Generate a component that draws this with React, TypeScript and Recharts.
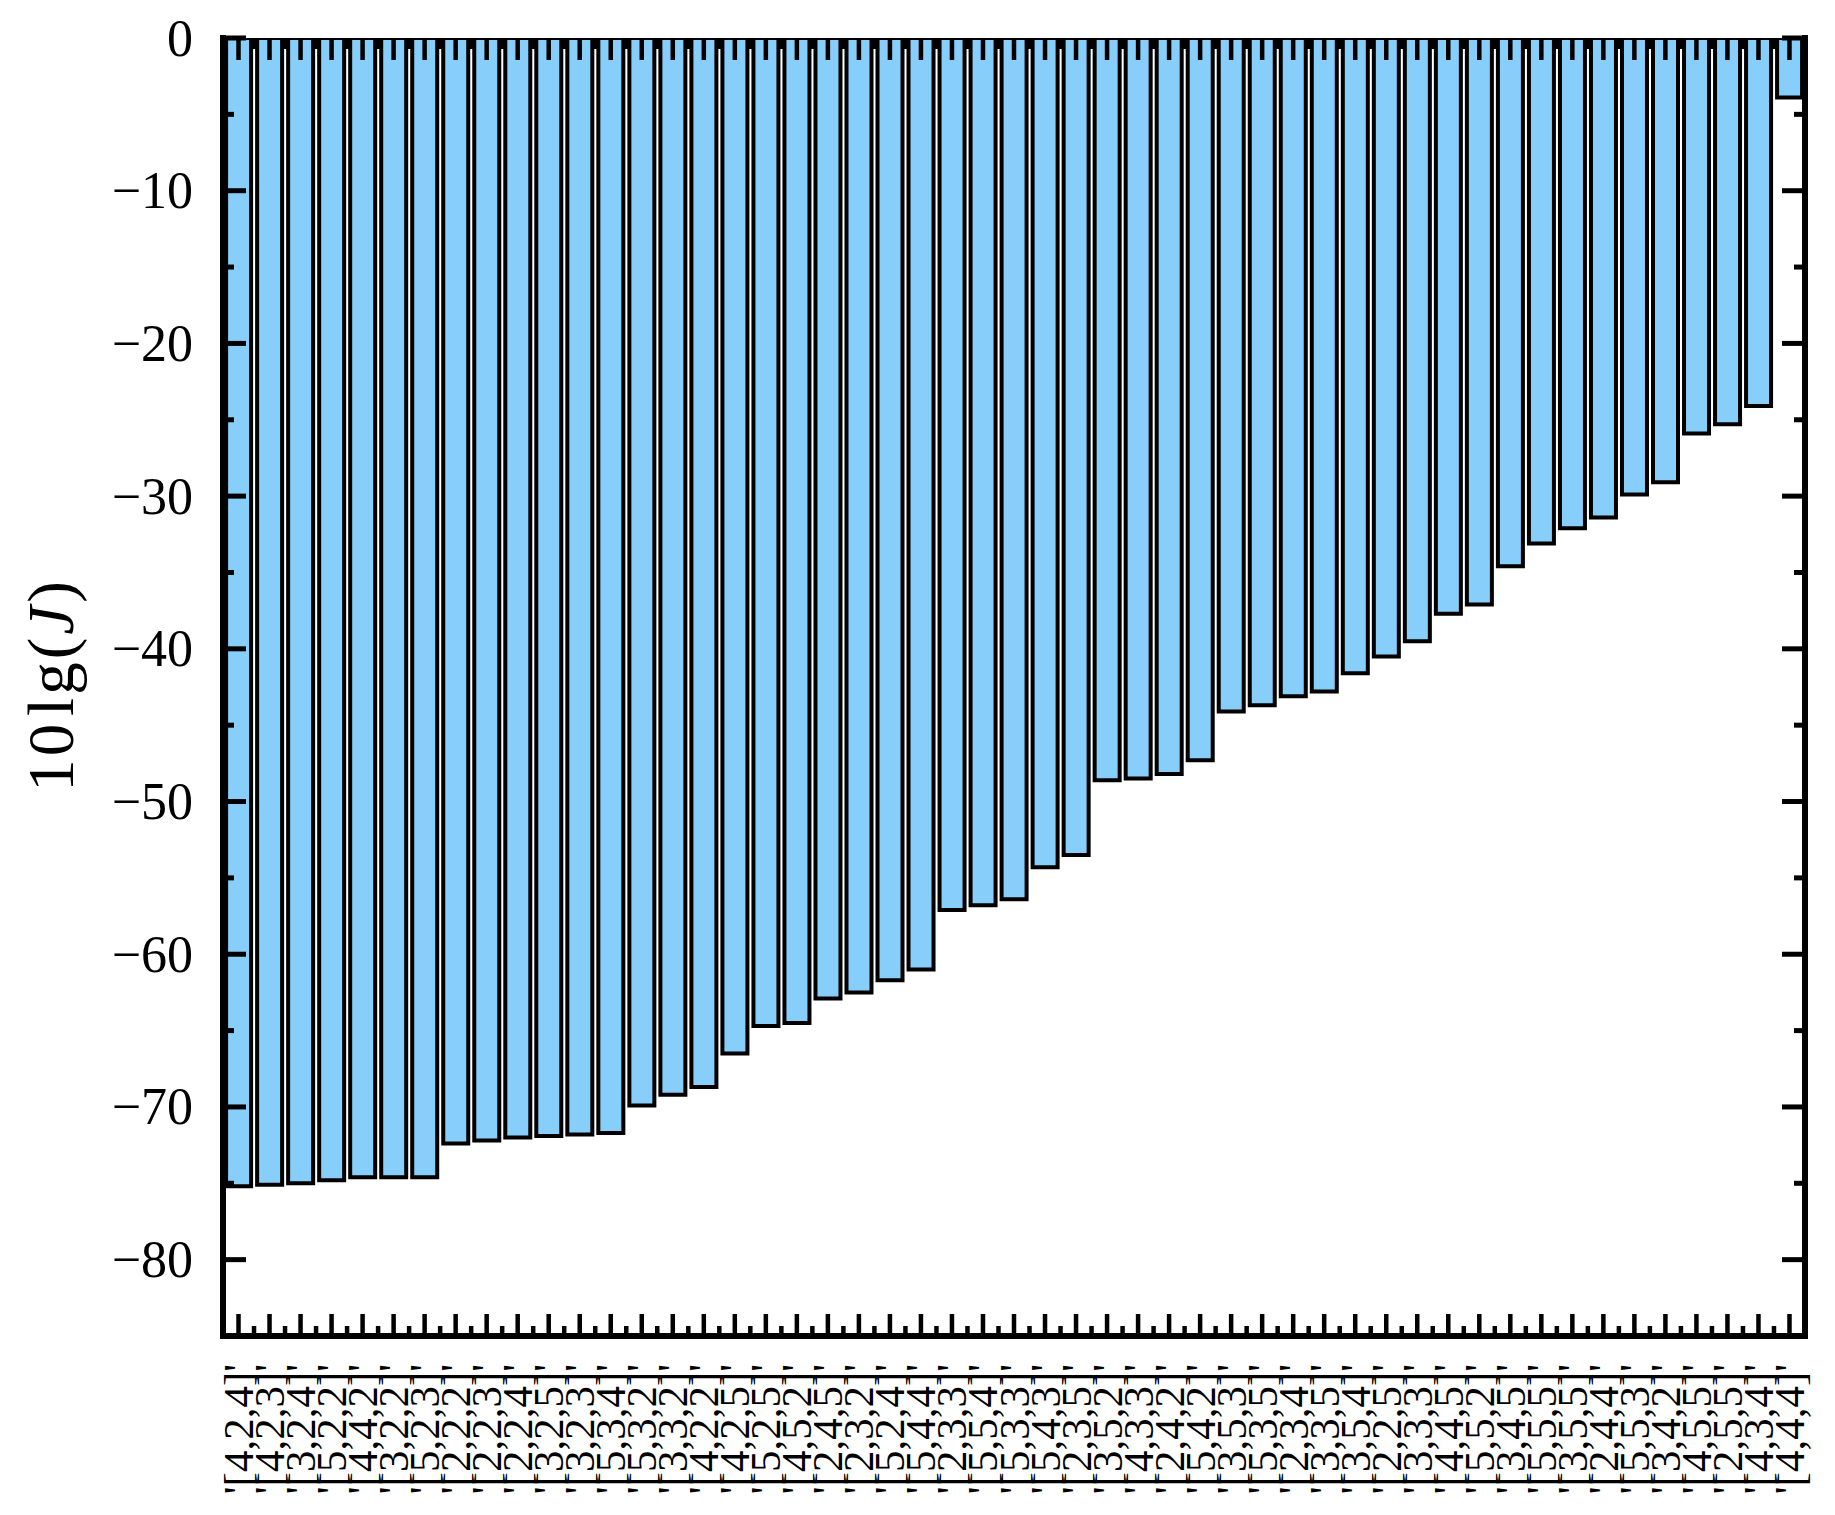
import { BarChart, Bar, XAxis, YAxis } from "recharts";

// parameter combinations, left to right (sorted by 10 lg(J))
const configs = [
    "[4,2,4]", "[4,2,3]", "[3,2,4]", "[5,2,2]", "[4,4,2]", "[3,2,2]", "[5,2,3]",
    "[2,2,2]", "[2,2,3]", "[2,2,4]", "[3,2,5]", "[3,2,3]", "[5,3,4]", "[5,3,2]",
    "[3,3,2]", "[4,2,2]", "[4,2,5]", "[5,2,5]", "[4,5,2]", "[2,4,5]", "[2,3,2]",
    "[5,2,4]", "[5,4,4]", "[2,3,3]", "[5,5,4]", "[5,3,3]", "[5,4,3]", "[2,3,5]",
    "[3,5,2]", "[4,3,3]", "[2,4,2]", "[5,4,2]", "[3,5,3]", "[5,3,5]", "[2,3,4]",
    "[3,3,5]", "[3,5,4]", "[2,2,5]", "[3,3,3]", "[4,4,5]", "[5,5,2]", "[3,4,5]",
    "[5,5,5]", "[3,5,5]", "[2,4,4]", "[5,5,3]", "[3,4,2]", "[4,5,5]", "[2,5,5]",
    "[4,3,4]", "[4,4,4]",
];

const lgJ = [
    -75.2, -75.1, -75.0, -74.8, -74.6, -74.6, -74.6,
    -72.4, -72.2, -72.0, -71.9, -71.8, -71.7, -69.9,
    -69.2, -68.7, -66.5, -64.7, -64.5, -62.9, -62.5,
    -61.7, -61.0, -57.1, -56.8, -56.4, -54.3, -53.5,
    -48.6, -48.5, -48.2, -47.3, -44.1, -43.7, -43.1,
    -42.8, -41.6, -40.5, -39.5, -37.7, -37.1, -34.6,
    -33.1, -32.1, -31.4, -29.9, -29.1, -25.9, -25.3,
    -24.1, -3.9,
];

const yTicks = [0, -5, -10, -15, -20, -25, -30, -35, -40, -45, -50, -55, -60, -65, -70, -75, -80];

const W = 1835;
const H = 1515;
const LEFT = 223;
const RIGHT = 30;
const TOP = 38;
const BOTTOM = 179;
const PLOT_W = W - LEFT - RIGHT;
const PLOT_H = H - TOP - BOTTOM;
const BAND = PLOT_W / configs.length;
const SERIF = '"Liberation Serif", "Times New Roman", Times, serif';

const data = configs.map((label, i) => ({ label, value: lgJ[i] }));

const frame = { stroke: "#000", strokeWidth: 6, strokeLinecap: "square" as const };

const fmt = (v: number) => (v === 0 ? "0" : `\u2212${Math.abs(v)}`);

// bottom axis: major tick at each bar, minor between bars (mirrored at the top), rotated label
const BottomTick = (props: any) => {
    const { x, y, payload } = props;
    const idx = props.index ?? payload.index;
    const top = y - PLOT_H;
    const ty = y + 28;
    const hasMinor = idx < configs.length - 1;
    const mx = x + BAND / 2;
    return (
        <g>
            <line x1={x} x2={x} y1={y} y2={y - 22} stroke="#000" strokeWidth={4.5} />
            <line x1={x} x2={x} y1={top} y2={top + 22} stroke="#000" strokeWidth={4.5} />
            {hasMinor && <line x1={mx} x2={mx} y1={y} y2={y - 10} stroke="#000" strokeWidth={4.5} />}
            {hasMinor && <line x1={mx} x2={mx} y1={top} y2={top + 11} stroke="#000" strokeWidth={4.5} />}
            <text
                x={x}
                y={ty}
                transform={`rotate(-90, ${x}, ${ty})`}
                textAnchor="end"
                dominantBaseline="central"
                fontFamily={SERIF}
                fontSize={43}
                fill="#000"
            >
                {`'${payload.value}'`}
            </text>
        </g>
    );
};

const LeftTick = (props: any) => {
    const { x, y, payload } = props;
    const major = payload.value % 10 === 0;
    return (
        <g>
            <line x1={x} x2={x + (major ? 23 : 11)} y1={y} y2={y} stroke="#000" strokeWidth={5} />
            {major && (
                <text
                    x={x - 30}
                    y={y}
                    textAnchor="end"
                    dominantBaseline="central"
                    fontFamily={SERIF}
                    fontSize={52}
                    fill="#000"
                >
                    {fmt(payload.value)}
                </text>
            )}
        </g>
    );
};

const RightTick = (props: any) => {
    const { x, y, payload } = props;
    const major = payload.value % 10 === 0;
    return <line x1={x} x2={x - (major ? 23 : 11)} y1={y} y2={y} stroke="#000" strokeWidth={5} />;
};

const YLabel = (props: any) => {
    const vb = props.viewBox || {};
    const cy = (vb.y ?? TOP) + (vb.height ?? PLOT_H) / 2 - 2;
    const cx = 51;
    return (
        <text
            x={cx}
            y={cy}
            transform={`rotate(-90, ${cx}, ${cy})`}
            textAnchor="middle"
            dominantBaseline="central"
            fontFamily={SERIF}
            fontSize={65}
            letterSpacing={3}
            fill="#000"
        >
            10<tspan dx={5}>lg(</tspan>
            <tspan fontStyle="italic">J</tspan>)
        </text>
    );
};

const App = () => {
    return (
        <div style={{ position: "absolute", left: 0, top: 0, width: W, height: H, background: "#fff" }}>
            <BarChart
                width={W}
                height={H}
                data={data}
                margin={{ top: TOP, right: 0, bottom: 0, left: 0 }}
                barCategoryGap="10%"
            >
                <Bar
                    dataKey="value"
                    xAxisId="bottom"
                    yAxisId="left"
                    fill="#87CEFA"
                    stroke="#000"
                    strokeWidth={4}
                    isAnimationActive={false}
                />
                <XAxis
                    xAxisId="top"
                    dataKey="label"
                    orientation="top"
                    height={0}
                    tick={false}
                    tickLine={false}
                    axisLine={frame}
                />
                <XAxis
                    xAxisId="bottom"
                    dataKey="label"
                    orientation="bottom"
                    height={BOTTOM}
                    interval={0}
                    tickSize={0}
                    tickMargin={0}
                    tickLine={false}
                    axisLine={frame}
                    tick={BottomTick}
                />
                <YAxis
                    yAxisId="left"
                    type="number"
                    domain={[-85, 0]}
                    allowDataOverflow
                    ticks={yTicks}
                    interval={0}
                    width={LEFT}
                    tickSize={0}
                    tickMargin={0}
                    tickLine={false}
                    axisLine={frame}
                    tick={LeftTick}
                    label={<YLabel />}
                />
                <YAxis
                    yAxisId="right"
                    orientation="right"
                    type="number"
                    domain={[-85, 0]}
                    allowDataOverflow
                    ticks={yTicks}
                    interval={0}
                    width={RIGHT}
                    tickSize={0}
                    tickMargin={0}
                    tickLine={false}
                    axisLine={frame}
                    tick={RightTick}
                />
            </BarChart>
        </div>
    );
};

export default App;
